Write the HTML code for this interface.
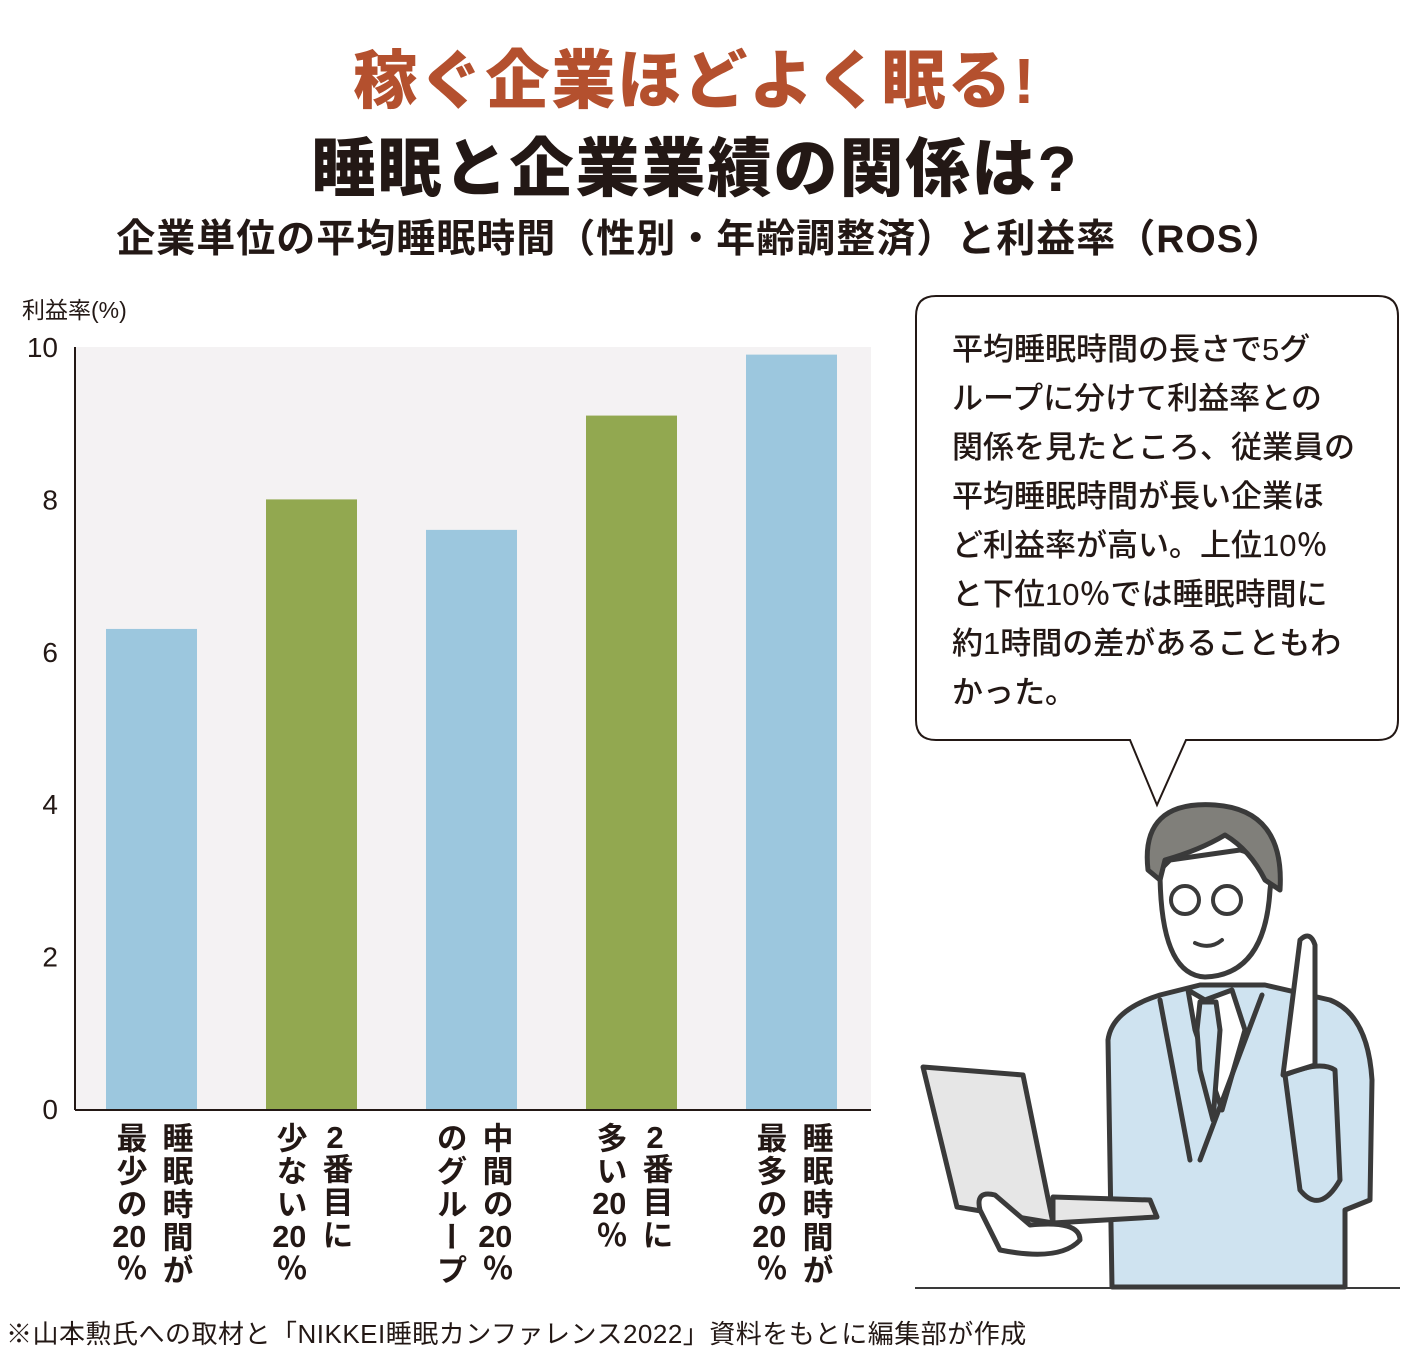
<!DOCTYPE html>
<html><head><meta charset="utf-8">
<style>
body{margin:0;width:1420px;height:1357px;background:#fff;position:relative;overflow:hidden;font-family:"Liberation Sans","Noto Sans CJK JP",sans-serif;color:#231815}
.abs{position:absolute}
.t1{left:0;width:1390px;text-align:center;top:30px;font-size:64px;font-weight:900;color:#b4502e;letter-spacing:2px}
.t2{left:0;width:1390px;text-align:center;top:118px;font-size:64px;font-weight:900;letter-spacing:2px}
.t3{left:0;width:1400px;text-align:center;top:208px;font-size:39px;font-weight:700;letter-spacing:1px}
.bubble{left:952px;top:325px;font-size:31px;line-height:49px;font-weight:500;letter-spacing:0px}
.foot{left:6px;top:1314px;font-size:26px;letter-spacing:0.5px}
.xl{position:absolute;top:1122px;writing-mode:vertical-rl;text-orientation:upright;font-size:31px;font-weight:700;line-height:46px;letter-spacing:2px}
.tcy{text-combine-upright:all;-webkit-text-combine:horizontal}
</style></head><body>
<div class="abs t1">稼ぐ企業ほどよく眠る!</div>
<div class="abs t2">睡眠と企業業績の関係は?</div>
<div class="abs t3">企業単位の平均睡眠時間（性別・年齢調整済）と利益率（ROS）</div>
<div class="abs foot">※山本勲氏への取材と「NIKKEI睡眠カンファレンス2022」資料をもとに編集部が作成</div>

<svg class="abs" style="left:0;top:0" width="1420" height="1357" id="chart">
<text x="22" y="318" font-size="23" fill="#231815">利益率(%)</text>
<rect x="75" y="347" width="796" height="762" fill="#f4f2f3"/>
<g id="yticks"></g>
<g id="bars"></g>
<line x1="75" y1="347" x2="75" y2="1110" stroke="#231815" stroke-width="2"/>
<line x1="75" y1="1110" x2="871" y2="1110" stroke="#231815" stroke-width="2"/>

<path d="M936,296 H1378 Q1398,296 1398,316 V720 Q1398,740 1378,740 H1186 L1157,805 L1130,740 H936 Q916,740 916,720 V316 Q916,296 936,296 Z" fill="#fff" stroke="#231815" stroke-width="2"/>

<g stroke="#3a3a3a" stroke-width="5" stroke-linejoin="round" stroke-linecap="round">
<path d="M1112,1287 L1108,1040 Q1112,1010 1160,995 L1200,985 L1265,985 L1330,1000 Q1368,1015 1372,1080 L1370,1200 L1345,1210 L1345,1287 Z" fill="#cfe3f0"/>
<path d="M1188,990 L1205,1000 L1232,990 L1245,1030 L1222,1110 L1195,1030 Z" fill="#fff"/>
<path d="M1200,1002 L1216,1002 L1220,1030 L1213,1120 L1200,1070 L1197,1030 Z" fill="#cfe3f0"/>
<path d="M1160,1000 L1190,1160 M1262,995 L1200,1160" fill="none"/>
<path d="M1285,1075 Q1320,1060 1335,1070 L1340,1180 Q1320,1215 1300,1190 Z" fill="#cfe3f0"/>
<path d="M1283,1075 L1300,940 Q1310,930 1315,945 L1315,1065 Z" fill="#fff"/>
<path d="M1160,870 Q1160,975 1205,977 Q1265,975 1270,890 Q1275,860 1240,850 L1170,860 Z" fill="#fff"/>
<path d="M1148,870 Q1140,800 1215,805 Q1285,810 1280,890 L1265,880 Q1250,850 1225,835 Q1200,850 1165,860 L1160,880 Z" fill="#807f7a"/>
<circle cx="1185" cy="900" r="14" fill="none" stroke-width="4"/>
<circle cx="1227" cy="900" r="14" fill="none" stroke-width="4"/>
<path d="M1195,943 Q1210,950 1222,940" fill="none" stroke-width="4"/>
<polygon points="923,1067 1023,1075 1053,1223 957,1207" fill="#e6e6e6"/>
<polygon points="1053,1197 1150,1200 1157,1217 1053,1223" fill="#e6e6e6"/>
<path d="M980,1210 Q975,1190 995,1195 L1030,1225 Q1080,1220 1080,1240 Q1060,1262 1000,1250 Z" fill="#fff"/>
</g>
<line x1="915" y1="1288" x2="1400" y2="1288" stroke="#3a3a3a" stroke-width="2"/>
</svg>

<div class="abs bubble">平均睡眠時間の長さで5グ<br>ループに分けて利益率との<br>関係を見たところ、従業員の<br>平均睡眠時間が長い企業ほ<br>ど利益率が高い。上位10％<br>と下位10％では睡眠時間に<br>約1時間の差があることもわ<br>かった。</div>

<div id="xlabels"></div>

<script>
const categories=["睡眠時間が\n最少の20％","2番目に\n少ない20％","中間の20％\nのグループ","2番目に\n多い20％","睡眠時間が\n最多の20％"];
const values=[6.3,8.0,7.6,9.1,9.9];
const colors=["#9cc7de","#92a850","#9cc7de","#92a850","#9cc7de"];
const ticks=[0,2,4,6,8,10];
const NS="http://www.w3.org/2000/svg";
const y0=1109,y1=347,vmax=10;
function yScale(v){return y0-(y0-y1)*v/vmax;}
function xScale(i){return 106+i*160;}
const bw=91;
const yt=document.getElementById('yticks');
ticks.forEach(t=>{
  const tx=document.createElementNS(NS,'text');
  tx.setAttribute('x',58);tx.setAttribute('y',yScale(t)+10);
  tx.setAttribute('text-anchor','end');tx.setAttribute('font-size','28');tx.setAttribute('fill','#231815');
  tx.textContent=t;
  
  
  yt.appendChild(tx);
});
const bg=document.getElementById('bars');
values.forEach((v,i)=>{
  const r=document.createElementNS(NS,'rect');
  r.setAttribute('x',xScale(i));r.setAttribute('y',yScale(v));
  r.setAttribute('width',bw);r.setAttribute('height',y0-yScale(v));
  r.setAttribute('fill',colors[i]);
  
  
  bg.appendChild(r);
});
const xl=document.getElementById('xlabels');
categories.forEach((c,i)=>{
  const d=document.createElement('div');
  d.className='xl';
  d.style.left=(xScale(i)+bw/2-46)+'px';
  d.innerHTML=c.replace('\n','<br>').replace(/(\d+)/g,'<span class="tcy">$1</span>');
  
  
  xl.appendChild(d);
});
</script>
</body></html>
